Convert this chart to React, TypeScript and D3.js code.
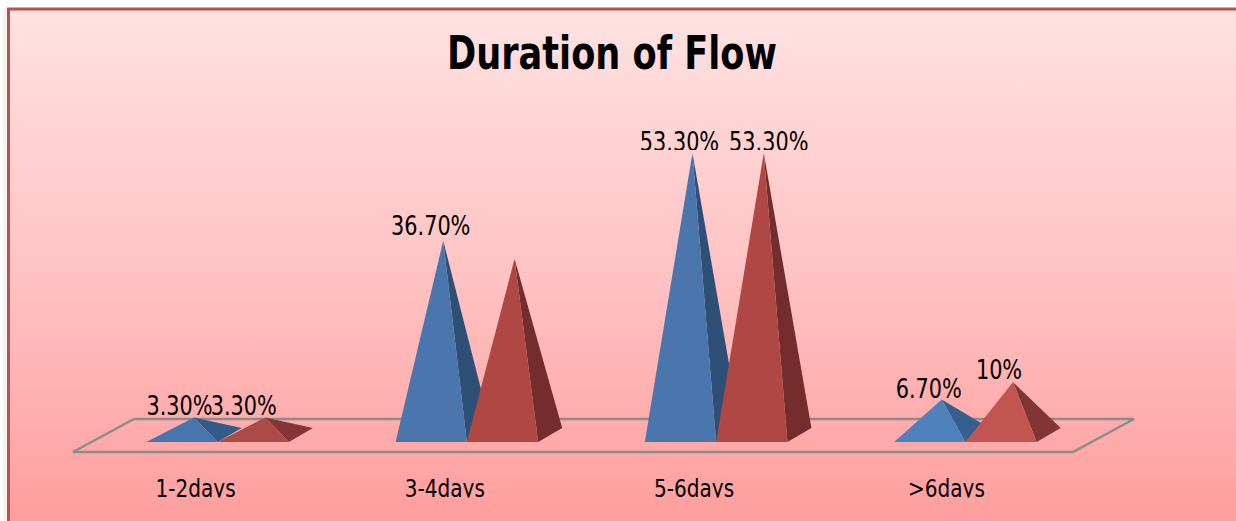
import React from "react";
import * as d3 from "d3";

const title = "Duration of Flow";
const categories = ["1-2days", "3-4days", "5-6days", ">6days"];
const seriesA = [3.3, 36.7, 53.3, 6.7];
const seriesB = [3.3, 33.3, 53.3, 10];
const labelsA = ["3.30%", "36.70%", "53.30%", "6.70%"];
const labelsB = ["3.30%", null, "53.30%", "10%"];
const labelShiftA = [-14.5, -12.5, -13, -13];
const labelShiftB = [-21.5, 0, 5, -14];
const labelLiftA = [3, 6, 2, 2];
const labelLiftB = [3, 0, 2, 3];
const tickShift = [-22, -22, -22, -19];
const blueFront = ["#4676AE", "#4A76AD", "#4A76AD", "#4F81BD"];
const blueSide = ["#325B8A", "#2E5077", "#2E5077", "#345F8E"];
const redFront = ["#AC4A47", "#AF4845", "#AF4845", "#C25451"];
const redSide = ["#853534", "#742D2C", "#742D2C", "#823534"];

const W = 1236;
const H = 521;
const BASE_Y = 442;
const DX = 24;
const DY = 14;
const FONT = "'DejaVu Sans Condensed', 'DejaVu Sans', sans-serif";

const x = d3.scaleBand<string>().domain(categories).range([93, 1090]).paddingInner(0).paddingOuter(0);
const y = d3.scaleLinear().domain([0, 53.3]).range([BASE_Y - DY / 2, 153]);
const poly = d3.line<[number, number]>();

function Pyramid({ left, width, value, front, side }: { left: number; width: number; value: number; front: string; side: string }) {
  const apex: [number, number] = [left + width / 2 + DX / 2, y(value)];
  const fl: [number, number] = [left, BASE_Y];
  const fr: [number, number] = [left + width, BASE_Y];
  const br: [number, number] = [left + width + DX, BASE_Y - DY];
  return (
    <g>
      <path d={poly([fr, br, apex])! + "Z"} fill={side} />
      <path d={poly([fl, fr, apex])! + "Z"} fill={front} />
    </g>
  );
}

function Squeezed({ px, py, sx, size, children }: { px: number; py: number; sx: number; size: number; children: React.ReactNode }) {
  return (
    <text transform={`translate(${px},${py}) scale(${sx},1)`} fontSize={size} textAnchor="middle">
      {children}
    </text>
  );
}

export default function App() {
  const pw = 71.3;
  const floor: [number, number][] = [[73, 452], [1073, 452], [1134, 419], [134, 419]];
  return (
    <svg width={W} height={H} viewBox={`0 0 ${W} ${H}`} style={{ position: "absolute", left: 0, top: 0, background: "#fff" }}>
      <defs>
        <linearGradient id="bg" x1="0" y1="0" x2="0" y2="1">
          <stop offset="0" stopColor="#FFE2E2" />
          <stop offset="0.5" stopColor="#FFC4C4" />
          <stop offset="1" stopColor="#FF9E9E" />
        </linearGradient>
        <clipPath id="tickClip"><rect x="0" y="470" width={W} height="27.5" /></clipPath>
        <clipPath id="topClip"><rect x="0" y="100" width={W} height="50" /></clipPath>
      </defs>
      <rect x="3" y="8" width="5" height={H} fill="#f4f4f4" />
      <rect x="7" y="8" width={W - 7} height={H - 8} fill="url(#bg)" />
      <path d={`M8.5 ${H}V9H${W}`} fill="none" stroke="#C0504D" strokeWidth="3" />
      <text x={447} y={69} fontFamily={FONT} fontWeight="700" fontSize="46" fill="#000" textLength={330} lengthAdjust="spacingAndGlyphs">{title}</text>
      <path d={poly(floor)! + "Z"} fill="none" stroke="#8C8C8C" strokeWidth="2.4" />
      {categories.map((c, i) => {
        const cx = x(c)! + x.bandwidth() / 2;
        return (
          <g key={c}>
            <Pyramid left={cx - pw} width={pw} value={seriesA[i]} front={blueFront[i]} side={blueSide[i]} />
            <Pyramid left={cx} width={pw} value={seriesB[i]} front={redFront[i]} side={redSide[i]} />
          </g>
        );
      })}
      <g fontFamily={FONT} fill="#000">
        {categories.map((c, i) => {
          const cx = x(c)! + x.bandwidth() / 2;
          const ax = cx - pw / 2 + DX / 2;
          const bx = cx + pw / 2 + DX / 2;
          const clip = seriesA[i] === 53.3 ? "url(#topClip)" : undefined;
          return (
            <g key={c}>
              <g clipPath={clip}>
                <Squeezed px={ax + labelShiftA[i]} py={y(seriesA[i]) - labelLiftA[i]} sx={0.89} size={26}>{labelsA[i]}</Squeezed>
                {labelsB[i] && (
                  <Squeezed px={bx + labelShiftB[i]} py={y(seriesB[i]) - labelLiftB[i]} sx={0.89} size={26}>{labelsB[i]}</Squeezed>
                )}
              </g>
              <g clipPath="url(#tickClip)">
                <Squeezed px={cx + tickShift[i]} py={497} sx={0.93} size={24}>{c}</Squeezed>
              </g>
            </g>
          );
        })}
      </g>
    </svg>
  );
}
